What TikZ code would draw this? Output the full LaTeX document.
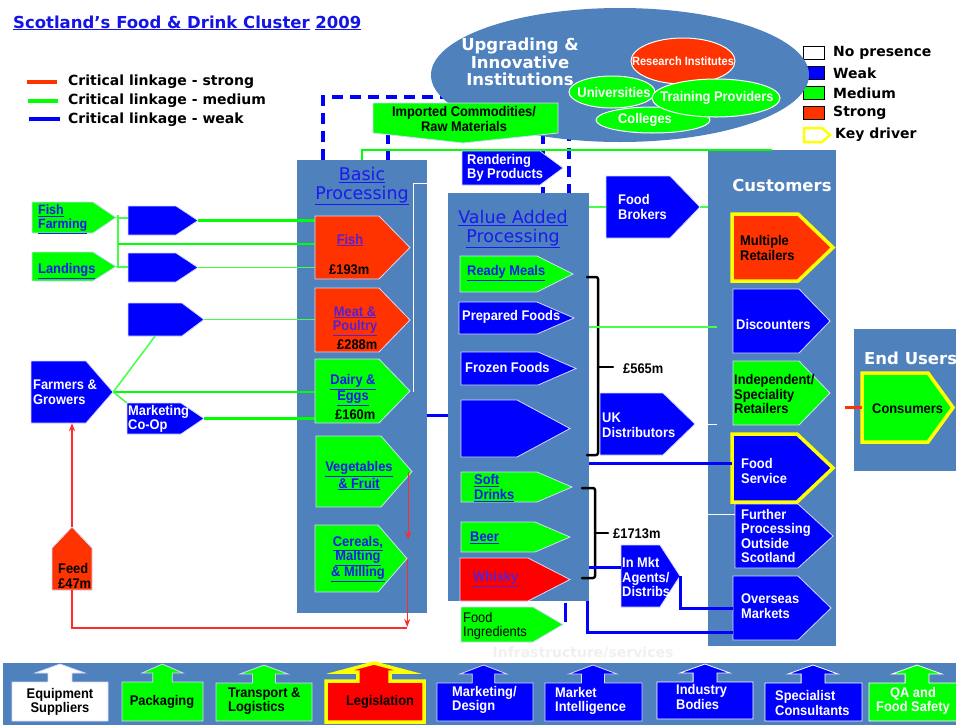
\documentclass[tikz,border=0pt]{standalone}
\usepackage{fontspec}
\setmainfont{Liberation Sans}
\newfontfamily\cond{Liberation Sans}[FakeStretch=0.92]
\newfontfamily\verd{DejaVu Sans}
\usetikzlibrary{fit,arrows.meta,shapes.geometric}
\definecolor{steel}{HTML}{4F81BD}
\definecolor{bblue}{HTML}{0000FF}
\definecolor{ggreen}{HTML}{00FF00}
\definecolor{ored}{HTML}{FF3300}
\definecolor{pred}{HTML}{FF0000}
\definecolor{yel}{HTML}{FFFF00}
\definecolor{lnk}{HTML}{1A1AF0}
\definecolor{ttl}{HTML}{1414E6}
\definecolor{purp}{HTML}{5A1FD0}
\definecolor{lav}{HTML}{D8D8FF}
\definecolor{lgreen}{HTML}{44FF44}
\definecolor{rline}{HTML}{FF2A2A}
\newcommand\uln[1]{\underline{#1}}
\newcommand\cf{\cond\bfseries\fontsize{14}{14.5}\selectfont}
\newcommand\pentR[7]{%
  \path[#7] (#2,#3) -- (#6,#3) -- (#4,{(#3+#5)/2}) -- (#6,#5) -- (#2,#5) -- cycle;
  \node[fit={(#2,#3) (#4,#5)}, inner sep=0pt] (#1) {};}
\newcommand\upbox[8]{%
  \pgfmathsetmacro\ucx{(#6+#7)/2}%
  \pgfmathsetmacro\usw{(#7-#6)/4.2}%
  \path[#8] (#2,#5) -- (#2,#3) -- ({\ucx-\usw},#3) -- ({\ucx-\usw},#3-9) -- (#6,#3-9) -- (\ucx,#3-18) -- (#7,#3-9) -- ({\ucx+\usw},#3-9) -- ({\ucx+\usw},#3) -- (#4,#3) -- (#4,#5) -- cycle;
  \node[fit={(#2,#3) (#4,#5)}, inner sep=0pt] (#1) {};}
\tikzset{
  box/.style={draw=lav, line width=0.8pt},
  kd/.style={draw=yel, line width=3.5pt},
  bluebox/.style={box, fill=bblue},
  greenbox/.style={box, fill=ggreen},
  redbox/.style={box, fill=ored},
  panel/.style={fill=steel, inner sep=0pt},
  tw/.style={font=\cf, text=white, align=left, inner sep=0pt, anchor=west},
  tk/.style={font=\cf, text=black, align=left, inner sep=0pt, anchor=west},
  tu/.style={font=\cf, text=lnk, align=left, inner sep=0pt, anchor=west},
  tp/.style={font=\cf, text=purp, align=center, inner sep=0pt, anchor=center},
  hd/.style={font=\verd\fontsize{17.5}{19}\selectfont, text=lnk, align=center, inner sep=0pt},
  hw/.style={font=\verd\bfseries\fontsize{16.5}{17.5}\selectfont, text=white, align=center, inner sep=0pt},
  lg/.style={font=\verd\bfseries\fontsize{14}{16}\selectfont, text=black, anchor=west, inner sep=0pt},
  gl/.style={draw=ggreen, line width=2.5pt},
  gt/.style={draw=lgreen, line width=1.5pt},
  bl/.style={draw=bblue, line width=3pt},
  wl/.style={draw=white, line width=1pt},
  rl/.style={draw=rline, line width=1.3pt},
  brk/.style={draw=black, line width=2.5pt, line cap=round, line join=round, rounded corners=2pt},
  dsh/.style={draw=bblue, line width=4pt, dash pattern=on 11pt off 7pt},
  sube/.style={ellipse, draw=white, line width=1pt, inner sep=0pt},
  subt/.style={text=white, font=\cf, inner sep=0pt},
}
\begin{document}
\begin{tikzpicture}[x=1pt,y=-1pt]
\useasboundingbox (0,0) rectangle (956,724);
\fill[white] (0,0) rectangle (956,724);

% title
\node[anchor=base west, inner sep=0pt, font=\verd\bfseries\fontsize{16.5}{18}\selectfont, text=ttl] (title) at (13,28) {\uln{Scotland’s Food \& Drink Cluster} \uln{2009}};

% legend left
\coordinate (ls1) at (27,82); \coordinate (le1) at (57,82);
\coordinate (ls2) at (28,101); \coordinate (le2) at (58,101);
\coordinate (ls3) at (29,119); \coordinate (le3) at (60,119);
\draw[draw=ored, line width=4pt] (ls1) -- (le1);
\draw[draw=ggreen, line width=3.5pt] (ls2) -- (le2);
\draw[draw=bblue, line width=3.5pt] (ls3) -- (le3);
\node[lg] (lt1) at (68,82) {Critical linkage - strong};
\node[lg] (lt2) at (68,101) {Critical linkage - medium};
\node[lg] (lt3) at (68,120) {Critical linkage - weak};

% legend right
\node[fit={(803,46)(824,59)}, inner sep=0pt, fill=white, draw=black, line width=1pt] (k1) {};
\node[fit={(803,66)(824,79)}, inner sep=0pt, fill=bblue, draw=black, line width=1pt] (k2) {};
\node[fit={(803,86)(824,99)}, inner sep=0pt, fill=ggreen, draw=black, line width=1pt] (k3) {};
\node[fit={(803,106)(824,119)}, inner sep=0pt, fill=ored, draw=black, line width=1pt] (k4) {};
\pentR{k5}{804}{128}{830}{142}{822}{fill=white, draw=yel, line width=2.5pt}
\node[lg] (kt1) at (833,53) {No presence};
\node[lg] (kt2) at (833,73) {Weak};
\node[lg] (kt3) at (833,93) {Medium};
\node[lg] (kt4) at (833,113) {Strong};
\node[lg] (kt5) at (835,135) {Key driver};

% dashed weak links
\draw[dsh] (323,160) -- (323,97) -- (569,97) -- (569,193);
\draw[dsh] (543,133) -- (543,193);
\draw[dsh] (388,133) -- (388,160);

% institutions
\node[ellipse, fill=steel, minimum width=378pt, minimum height=134pt, inner sep=0pt] (upg) at (620,75) {};
\node[hw] (upg-t) at (520,62) {Upgrading \&\\Innovative\\Institutions};
\node[sube, fill=ored, minimum width=104pt, minimum height=46pt] (ri) at (683,61) {};
\node[sube, fill=ggreen, minimum width=86pt, minimum height=32pt] (uni) at (612,92) {};
\node[sube, fill=ggreen, minimum width=114pt, minimum height=26pt] (col) at (653,120) {};
\node[sube, fill=ggreen, minimum width=128pt, minimum height=38pt] (tpv) at (716,98) {};
\node[subt, font=\cond\bfseries\fontsize{12}{13}\selectfont] (ri-t) at (683,61) {Research Institutes};
\node[subt] (uni-t) at (614,92) {Universities};
\node[subt] (col-t) at (645,120) {Colleges};
\node[subt] (tpv-t) at (717,98) {Training Providers};

% panels
\node[panel, fit={(297,160)(427,613)}] (bp) {};
\node[panel, fit={(448,193)(589,601)}] (va) {};
\node[panel, fit={(708,150)(836,646)}] (cust) {};
\node[panel, fit={(854,329)(960,471)}] (eu) {};
\node[panel, fit={(3,663)(960,726)}] (infra) {};

% top green link basic -> customers
\draw[gl] (bp.north) |- (cust.north);

% imported commodities
\path[greenbox] (373,103) -- (558,103) -- (558,133) -- (463,143) -- (373,133) -- cycle;
\node[fit={(373,103)(558,143)}, inner sep=0pt] (imp) {};
\node[tk, align=center, anchor=center] (imp-t) at (464,119) {Imported Commodities/\\Raw Materials};

% rendering
\pentR{rend}{462}{151}{563}{185}{540}{bluebox}
\node[tw] (rend-t) at (467,168) {Rendering\\By Products};

% left side boxes
\pentR{ff}{32}{202}{116}{233}{93}{greenbox}
\pentR{ld}{32}{252}{116}{281}{93}{greenbox}
\pentR{b1}{128}{206}{198}{235}{176}{bluebox}
\pentR{b2}{128}{253}{198}{282}{176}{bluebox}
\pentR{b3}{128}{303}{204}{336}{182}{bluebox}

% left connectors
\coordinate (jt) at (118,215); \coordinate (jb) at (118,268);
\draw[gt] (jt) -- (jb);
\draw[gt] (ff.east) -- (ff.east -| jt);
\draw[gt] (ld.east) -- (ld.east -| jt);
\draw[gt] (118,218) -- (b1.west |- 0,218);
\draw[gt] (118,267) -- (b2.west |- 0,267);
\draw[gl] (118,244) -- (315,244);
\draw[gl] (b1.east) -- (315,220.5);
\draw[gt] (b2.east) -- (315,267.5);
\draw[gt] (b3.east) -- (315,319.5);

\pentR{fg}{31}{361}{113}{423}{86}{bluebox}
\pentR{mc}{127}{403}{204}{434}{181}{bluebox}
\draw[gl] (fg.east) -- (315,392);
\draw[gt] (fg.east) -- ([xshift=-11pt]b3.south);
\draw[gt] (fg.east) -- (mc.north west);
\draw[gl] (mc.east) -- (315,418.5);

% basic processing content
\draw[wl] (bp.east |- 0,183) -- (413,183) -- (413,392);
\node[hd] (bp-t) at (362,186) {\uln{Basic}\\\uln{Processing}};
\pentR{fish}{315}{216}{410}{279}{379}{redbox}
\pentR{meat}{315}{288}{410}{352}{379}{redbox}
\pentR{dairy}{315}{359}{410}{423}{379}{greenbox}
\pentR{veg}{316}{436}{412}{507}{381}{greenbox}
\pentR{cer}{315}{525}{407}{592}{378}{greenbox}
\node[tp] (fish-t) at (350,240) {\uln{Fish}};
\node[tk] (fish-v) at (329,270) {£193m};
\node[tp] (meat-t) at (355,321) {\uln{Meat \&}\\\uln{Poultry}};
\node[tk] (meat-v) at (337,345) {£288m};
\node[tu, align=center, anchor=center] (dairy-t) at (353,390) {\uln{Dairy \&}\\\uln{Eggs}};
\node[tk] (dairy-v) at (335,415) {£160m};
\node[tu, align=center, anchor=center] (veg-t) at (359,476) {\uln{Vegetables}\\\uln{\& Fruit}};
\node[tu, align=center, anchor=center] (cer-t) at (358,559) {\uln{Cereals,}\\\uln{Malting}\\\uln{\& Milling}};

% feed and red links
\path[redbox] (52,590) -- (52,548) -- (72,527) -- (92,548) -- (92,590) -- cycle;
\node[fit={(52,527)(92,590)}, inner sep=0pt] (feed) {};
\node[tk] (feed-t) at (58,576) {Feed\\£47m};
\draw[rl, -{Stealth[length=8pt,width=6pt]}] ([xshift=-4pt]veg.east) -- ++(0,68);
\draw[rl, -{Stealth[length=8pt,width=6pt]}] (cer.east) -- (cer.east |- 0,627);
\draw[rl] (cer.east |- 0,628) -| (feed.south);
\draw[rl, -{Stealth[length=8pt,width=6pt]}] (feed.north) -- (fg.south -| feed.north);

% basic -> value added (weak)
\draw[bl] (bp.east |- 0,415) -- (va.west |- 0,415);

% value added content
\node[hd] (va-t) at (513,229) {\uln{Value Added}\\\uln{Processing}};
\pentR{rm}{460}{256}{573}{292}{537}{greenbox}
\pentR{pf}{459}{302}{574}{334}{537}{bluebox}
\pentR{fz}{461}{352}{576}{385}{538}{bluebox}
\pentR{bk}{461}{400}{570}{457}{517}{bluebox}
\pentR{sd}{461}{472}{572}{502}{537}{greenbox}
\pentR{beer}{461}{522}{570}{552}{535}{greenbox}
\pentR{wh}{460}{558}{570}{601}{528}{box, fill=pred}
\pentR{fi}{461}{607}{563}{642}{533}{greenbox}
\node[tu] (rm-t) at (467,273) {\uln{Ready Meals}};
\node[tw] (pf-t) at (462,317) {Prepared Foods};
\node[tw] (fz-t) at (465,367) {Frozen Foods};
\node[tu] (sd-t) at (474,488) {\uln{Soft}\\\uln{Drinks}};
\node[tu] (beer-t) at (470,538) {\uln{Beer}};
\node[tu, text=purp] (wh-t) at (473,579) {\uln{Whisky}};
\node[tk, font=\cond\fontsize{14}{14.5}\selectfont] (fi-t) at (463,626) {Food\\Ingredients};

% middle distribution
\pentR{fb}{606}{176}{700}{238}{670}{bluebox}
\pentR{uk}{600}{393}{695}{455}{663}{bluebox}
\pentR{mkt}{621}{545}{680}{607}{660}{bluebox}
\node[tw] (fb-t) at (618,207) {Food\\Brokers};
\node[tw] (uk-t) at (602,425) {UK\\Distributors};
\node[tw] (mkt-t) at (622,577) {In Mkt\\Agents/\\Distribs};

\draw[brk] (587,277) -| (598,455) -- (587,455);
\draw[brk] (598,367) -- (613,367);
\draw[brk] (582,488) -| (595,578) -- (582,578);
\draw[brk] (595,533) -- (608,533);
\node[tk] (v565) at (623,369) {£565m};
\node[tk] (v1713) at (613,534) {£1713m};

% customers
\node[hw] (cust-t) at (782,185) {Customers};
\pentR{mr}{732}{214}{833}{281}{798}{fill=ored, kd}
\pentR{disc}{733}{289}{830}{353}{799}{bluebox}
\pentR{ind}{733}{361}{830}{425}{799}{greenbox}
\pentR{fs}{732}{434}{833}{502}{797}{fill=bblue, kd}
\pentR{fp}{735}{504}{833}{568}{798}{bluebox}
\pentR{os}{733}{576}{831}{640}{798}{bluebox}
\node[tk] (mr-t) at (740,248) {Multiple\\Retailers};
\node[tw] (disc-t) at (736,324) {Discounters};
\node[tk] (ind-t) at (734,394) {Independent/\\Speciality\\Retailers};
\node[tw] (fs-t) at (741,471) {Food\\Service};
\node[tw] (fp-t) at (741,536) {Further\\Processing\\Outside\\Scotland};
\node[tw] (os-t) at (741,606) {Overseas\\Markets};

% links into customers
\draw[gt] (va.east |- fb.west) -- (fb.west);
\draw[gt] (fb.east) -- (cust.west |- fb.east);
\draw[draw=lgreen, line width=2pt] (va.east |- 0,327) -- (717,327);
\draw[wl] (uk.east) -- (717,424);
\draw[wl] (cust.west |- 0,514) -- (fp.west |- 0,514);
\draw[bl] (va.east |- 0,463) -- (fs.west |- 0,463);
\draw[bl] (va.east |- 0,567) -- (mkt.west |- 0,567);
\draw[bl] (mkt.east) |- (os.west);
\draw[bl] (587,601) |- (os.west |- 0,632);
\draw[bl] (565,603) -- (565,622);

% end users
\node[hw, anchor=west] (eu-t) at (864,358) {End Users};
\pentR{cons}{862}{373}{953}{442}{928}{fill=ggreen, kd}
\node[tk] (cons-t) at (872,409) {Consumers};
\draw[draw=ored, line width=3pt] (cons.west) -- ++(-17,0);

% infrastructure / services
\node[font=\verd\bfseries\fontsize{14}{16}\selectfont, text=black!6, inner sep=0pt] (infra-t) at (583,653) {Infrastructure/services};
\upbox{eq}{12}{682}{108}{721}{35}{85}{fill=white, draw=lav, line width=0.8pt}
\upbox{pk}{122}{682}{203}{721}{142}{183}{greenbox}
\upbox{tr}{216}{683}{312}{721}{240}{288}{greenbox}
\upbox{lgs}{326}{681}{424}{722}{340}{408}{fill=pred, kd}
\upbox{md}{437}{683}{533}{721}{460}{507}{bluebox}
\upbox{mi}{545}{683}{642}{721}{569}{617}{bluebox}
\upbox{ib}{657}{682}{753}{719}{680}{730}{bluebox, draw=white}
\upbox{sc}{765}{683}{862}{721}{788}{838}{bluebox, draw=white}
\upbox{qa}{869}{683}{958}{721}{892}{942}{greenbox, draw=white}
\node[tk, align=center, anchor=center] (eq-t) at (60,702) {Equipment\\Suppliers};
\node[tk, anchor=center] (pk-t) at (162,702) {Packaging};
\node[tk] (tr-t) at (228,701) {Transport \&\\Logistics};
\node[tk, anchor=center] (lgs-t) at (380,702) {Legislation};
\node[tw] (md-t) at (452,700) {Marketing/\\Design};
\node[tw] (mi-t) at (555,701) {Market\\Intelligence};
\node[tw] (ib-t) at (676,697) {Industry\\Bodies};
\node[tw] (sc-t) at (775,703) {Specialist\\Consultants};
\node[tw, align=center, anchor=center] (qa-t) at (913,701) {QA and\\Food Safety};

% left texts
\node[tu, font=\cf\fontsize{13.5}{14}\selectfont] (ff-t) at (38,219) {\uln{Fish}\\\uln{Farming}};
\node[tu] (ld-t) at (38,271) {\uln{Landings}};
\node[tw] (fg-t) at (33,392) {Farmers \&\\Growers};
\node[tw] (mc-t) at (128,419) {Marketing\\Co-Op};
\end{tikzpicture}
\end{document}
